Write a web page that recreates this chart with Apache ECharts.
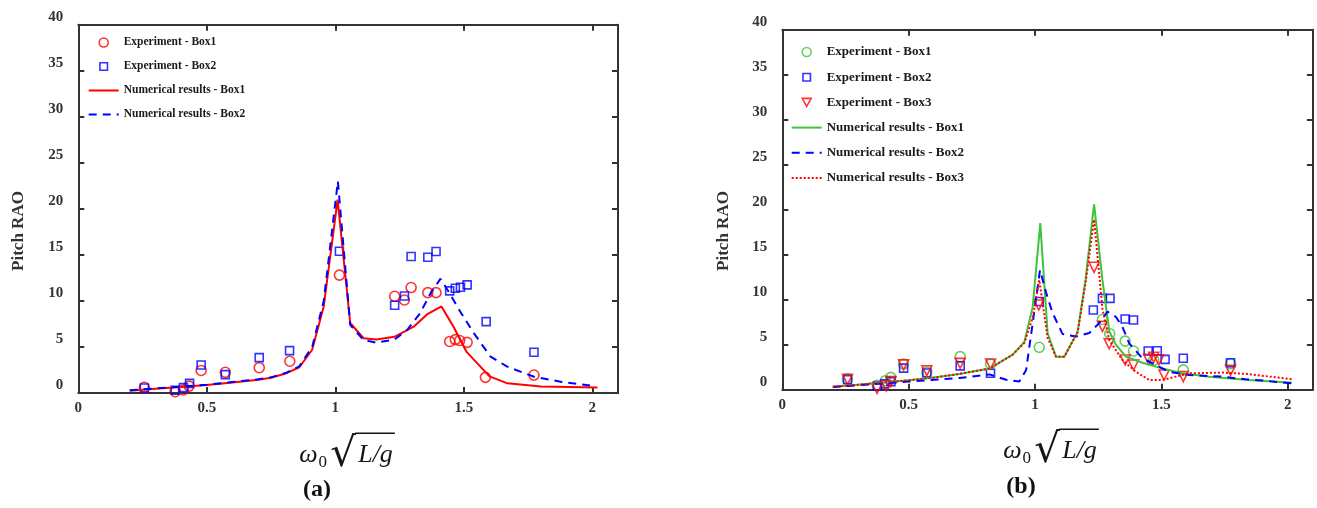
<!DOCTYPE html>
<html>
<head>
<meta charset="utf-8">
<script src="https://cdn.jsdelivr.net/npm/echarts@6/dist/echarts.min.js"></script>
<style>html,body{margin:0;padding:0;background:#fff}#c{width:1317px;height:508px}</style>
</head>
<body>
<div id="c"></div>
<script>
// ---------- DATA ----------
// axis ticks
const xMin = 0, xMax = 2.1, xStep = 0.5;
const yMin = 0, yMax = 40, yStep = 5;

// Panel (a) numerical results
const aNum1X = [0.20,0.30,0.40,0.50,0.60,0.70,0.75,0.81,0.86,0.91,0.955,1.009,1.058,1.11,1.16,1.23,1.305,1.36,1.413,1.46,1.51,1.60,1.67,1.80,2.02];
const aNum1Y = [0.25,0.45,0.65,0.87,1.15,1.45,1.65,2.15,2.8,4.7,9.4,21.0,7.6,5.95,5.8,6.1,7.2,8.6,9.4,7.2,4.5,1.8,1.05,0.7,0.6];
const aNum2X = [0.20,0.30,0.40,0.50,0.60,0.70,0.75,0.81,0.86,0.91,0.955,1.01,1.058,1.11,1.16,1.23,1.28,1.33,1.37,1.409,1.441,1.487,1.539,1.604,1.669,1.773,1.877,2.006];
const aNum2Y = [0.3,0.5,0.7,0.9,1.2,1.5,1.7,2.2,2.9,5.0,10.0,23.0,7.4,5.76,5.47,5.8,6.85,8.66,10.8,12.4,11.0,8.8,6.5,3.95,2.86,1.77,1.23,0.76];
// Panel (a) experiments
const aExp1X = [0.257,0.377,0.409,0.431,0.478,0.572,0.704,0.823,1.016,1.231,1.269,1.295,1.36,1.392,1.445,1.467,1.484,1.513,1.584,1.773];
const aExp1Y = [0.62,0.14,0.33,0.75,2.45,2.25,2.75,3.45,12.8,10.5,10.1,11.45,10.9,10.9,5.6,5.8,5.7,5.5,1.7,1.95];
const aExp2X = [0.257,0.377,0.409,0.433,0.478,0.572,0.704,0.822,1.016,1.231,1.269,1.295,1.36,1.392,1.445,1.467,1.487,1.513,1.587,1.773];
const aExp2Y = [0.55,0.3,0.58,1.05,3.04,2.0,3.84,4.6,15.4,9.53,10.54,14.82,14.75,15.36,11.09,11.38,11.49,11.74,7.75,4.42];

// Panel (b) numerical results
const bNum1X = [0.20,0.30,0.40,0.50,0.60,0.70,0.82,0.912,0.958,0.991,1.021,1.05,1.083,1.116,1.169,1.20,1.234,1.267,1.294,1.32,1.36,1.425,1.504,1.583,1.689,1.846,2.017];
const bNum1Y = [0.33,0.55,0.8,1.05,1.35,1.75,2.35,3.9,5.3,9.2,18.5,6.3,3.67,3.67,6.44,12.2,20.6,12.2,6.5,5.0,3.67,3.0,2.37,1.82,1.45,1.08,0.78];
const bNum2X = [0.20,0.30,0.50,0.70,0.82,0.886,0.938,0.965,0.991,1.02,1.044,1.07,1.109,1.162,1.215,1.254,1.287,1.32,1.346,1.373,1.425,1.478,1.53,1.61,1.741,1.833,1.91,2.017];
const bNum2Y = [0.3,0.5,0.9,1.3,1.7,1.1,0.9,2.2,7.4,13.3,10.8,8.5,6.2,5.9,6.3,7.4,8.67,8.1,7.0,5.15,3.5,2.74,2.0,1.63,1.45,1.15,1.0,0.7];
const bNum3X = [0.20,0.30,0.40,0.50,0.60,0.70,0.82,0.912,0.958,0.991,1.017,1.05,1.083,1.116,1.169,1.20,1.234,1.267,1.294,1.346,1.399,1.452,1.504,1.557,1.61,1.741,1.846,2.017];
const bNum3Y = [0.33,0.55,0.8,1.05,1.35,1.75,2.35,3.9,5.2,8.0,12.2,5.8,3.67,3.67,6.4,11.8,18.9,9.0,5.5,3.3,2.0,1.08,1.08,1.45,1.82,1.9,1.74,1.15];
// Panel (b) experiments
const bExp1X = [0.258,0.376,0.408,0.429,0.48,0.572,0.704,0.824,1.017,1.267,1.296,1.357,1.39,1.47,1.587,1.774];
const bExp1Y = [1.2,0.5,1.0,1.37,2.86,1.95,3.67,2.86,4.71,7.8,6.22,5.4,4.3,3.3,2.2,2.9];
const bExp2X = [0.258,0.376,0.405,0.43,0.48,0.572,0.704,0.824,1.017,1.231,1.267,1.297,1.357,1.39,1.448,1.484,1.515,1.587,1.774];
const bExp2Y = [1.1,0.4,0.65,0.9,2.4,1.85,2.65,1.82,9.8,8.86,10.15,10.15,7.85,7.75,4.3,4.33,3.37,3.5,3.0];
const bExp3X = [0.258,0.375,0.412,0.43,0.48,0.572,0.704,0.824,1.015,1.234,1.267,1.294,1.357,1.39,1.45,1.47,1.49,1.511,1.587,1.774];
const bExp3Y = [1.15,0.15,0.41,0.9,2.76,2.11,2.93,2.86,9.41,13.6,7.04,5.1,3.3,2.74,3.37,3.6,3.3,1.63,1.45,2.15];

// Text
const legendA = ['Experiment - Box1','Experiment - Box2','Numerical results - Box1','Numerical results - Box2'];
const legendB = ['Experiment - Box1','Experiment - Box2','Experiment - Box3','Numerical results - Box1','Numerical results - Box2','Numerical results - Box3'];
const yName = 'Pitch RAO';
const panelTags = ['(a)', '(b)'];

// ---------- STYLE ----------
const FONT = '"Liberation Serif", "Times New Roman", serif';
const MATHF = '"Liberation Serif", serif';
const AXC = '#333333';
const RED = '#ff0000', BLUE = '#0000ff', GREEN = '#3cc43c';
// legend marker icons drawn inside a 30x9 box (invisible moveTo points keep the box size)
const ICON_SQUARE = 'path://M0,0M30,9M11.25,0.75L18.75,0.75L18.75,8.25L11.25,8.25Z';
const ICON_TRI_DOWN = 'path://M0,0M30,9M10.5,0.5L19.5,0.5L15,8.5Z';

function pairs(xs, ys) { return xs.map((x, i) => [x, ys[i]]); }

function xAx(grid, pos, showLabel) {
  return {
    type: 'value', gridIndex: grid, position: pos, min: xMin, max: xMax, interval: xStep,
    axisLine: { show: true, onZero: false, lineStyle: { color: AXC, width: 2 } },
    axisTick: { show: true, inside: true, length: 6, lineStyle: { color: AXC, width: 2 } },
    axisLabel: { show: showLabel, showMaxLabel: false, margin: 8, color: AXC, fontFamily: FONT, fontWeight: 'bold', fontSize: 15 },
    splitLine: { show: false }
  };
}
function yAx(grid, pos, showLabel) {
  return {
    type: 'value', gridIndex: grid, position: pos, min: yMin, max: yMax, interval: yStep,
    axisLine: { show: true, onZero: false, lineStyle: { color: AXC, width: 2 } },
    axisTick: { show: true, inside: true, length: 6, lineStyle: { color: AXC, width: 2 } },
    axisLabel: { show: showLabel, margin: 15, verticalAlign: 'bottom', color: AXC, fontFamily: FONT, fontWeight: 'bold', fontSize: 15 },
    splitLine: { show: false }
  };
}

function lineS(name, xi, yi, xs, ys, color, type) {
  return { type: 'line', name: name, xAxisIndex: xi, yAxisIndex: yi, data: pairs(xs, ys),
    symbol: 'none', smooth: false, lineStyle: { color: color, width: 2, type: type || 'solid' },
    itemStyle: { color: 'rgba(0,0,0,0)', borderWidth: 0, opacity: 0 } };
}
function scatS(name, xi, yi, xs, ys, color, symbol, size, rot) {
  return { type: 'scatter', name: name, xAxisIndex: xi, yAxisIndex: yi, data: pairs(xs, ys),
    symbol: symbol, symbolSize: size, symbolRotate: rot || 0, symbolKeepAspect: true,
    itemStyle: { color: 'rgba(255,255,255,0)', borderColor: color, borderWidth: 1.6 } };
}

// ---------- math axis title ----------
const mctx = document.createElement('canvas').getContext('2d');
function meas(font, text, baseline) {
  mctx.font = font; mctx.textBaseline = baseline || 'alphabetic';
  return mctx.measureText(text);
}
function textAtBaseline(text, font, x, B) {
  const d = meas(font, 'x', 'middle').actualBoundingBoxDescent;
  return { type: 'text', x: x, y: B - d, silent: true,
    style: { text: text, font: font, fill: '#151515', align: 'left', verticalAlign: 'middle', textAlign: 'left', textVerticalAlign: 'middle' } };
}
function mathTitle(cx, B) {
  const fMain = 'italic 26px ' + MATHF;
  const fSub = '17px ' + MATHF;
  const sqF100 = '100px "DejaVu Serif"';
  const m100 = meas(sqF100, '\u221A');
  const top = B - 29.5, bottom = B + 5;
  const s = 100 * (bottom - top) / (m100.actualBoundingBoxAscent + m100.actualBoundingBoxDescent);
  const sqF = s.toFixed(2) + 'px "DejaVu Serif"';
  const sqB = top + m100.actualBoundingBoxAscent * s / 100;
  const wOmega = meas(fMain, '\u03C9').width;
  const wSub = meas(fSub, '0').width;
  const sqLeft = m100.actualBoundingBoxLeft * s / 100;
  const sqRight = m100.actualBoundingBoxRight * s / 100;
  const wRad = meas(fMain, 'L/g').width;
  const xO = 0, xS = wOmega + 1, xQ = xS + wSub + 4 + sqLeft;
  const xQr = xQ + sqRight;
  const xL = xQr + 2;
  const xEnd = xL + wRad + 2;
  const off = cx - xEnd / 2;
  return [
    textAtBaseline('\u03C9', fMain, off + xO, B),
    textAtBaseline('0', fSub, off + xS, B + 5),
    textAtBaseline('\u221A', sqF, off + xQ, sqB),
    textAtBaseline('L/g', fMain, off + xL, B),
    { type: 'rect', silent: true, shape: { x: off + xQr - 1, y: top, width: xEnd - xQr + 1, height: 1.6 }, style: { fill: '#151515' } }
  ];
}

const graphics = [].concat(
  mathTitle(347, 462),
  mathTitle(1051, 458),
  [
    { type: 'text', x: 19, y: 231, rotation: Math.PI / 2, silent: true,
      style: { text: yName, font: 'bold 17px ' + FONT, fill: AXC, align: 'center', verticalAlign: 'middle', textAlign: 'center', textVerticalAlign: 'middle' } },
    { type: 'text', x: 724, y: 231, rotation: Math.PI / 2, silent: true,
      style: { text: yName, font: 'bold 17px ' + FONT, fill: AXC, align: 'center', verticalAlign: 'middle', textAlign: 'center', textVerticalAlign: 'middle' } },
    { type: 'text', x: 317, y: 490, silent: true,
      style: { text: panelTags[0], font: 'bold 24px ' + FONT, fill: '#111', align: 'center', verticalAlign: 'middle', textAlign: 'center', textVerticalAlign: 'middle' } },
    { type: 'text', x: 1021, y: 487, silent: true,
      style: { text: panelTags[1], font: 'bold 24px ' + FONT, fill: '#111', align: 'center', verticalAlign: 'middle', textAlign: 'center', textVerticalAlign: 'middle' } }
  ]
);

const legendText = (size) => ({ fontFamily: FONT, fontWeight: 'bold', fontSize: size, color: '#1a1a1a' });
function legendItems(prefix, names) {
  return names.map(n => {
    const item = { name: prefix + n };
    if (n === 'Experiment - Box2') item.icon = ICON_SQUARE;
    if (n === 'Experiment - Box3') { item.icon = ICON_TRI_DOWN; item.symbolRotate = 0; }
    return item;
  });
}

const option = {
  animation: false,
  backgroundColor: '#ffffff',
  grid: [
    { left: 78.3, top: 24.7, width: 539.7, height: 368.3, containLabel: false },
    { left: 782.3, top: 29.7, width: 530.6, height: 360, containLabel: false }
  ],
  xAxis: [xAx(0, 'bottom', true), xAx(0, 'top', false), xAx(1, 'bottom', true), xAx(1, 'top', false)],
  yAxis: [yAx(0, 'left', true), yAx(0, 'right', false), yAx(1, 'left', true), yAx(1, 'right', false)],
  legend: [
    { data: legendItems('a|', legendA), formatter: n => n.slice(2), orient: 'vertical', left: 87.7, top: 36.5,
      padding: 0, itemWidth: 30, itemHeight: 9, itemGap: 12.0, selectedMode: false,
      itemStyle: { borderWidth: 1.6 }, textStyle: legendText(11.5) },
    { data: legendItems('b|', legendB), formatter: n => n.slice(2), orient: 'vertical', left: 790.7, top: 45.5,
      padding: 0, itemWidth: 30, itemHeight: 9, itemGap: 12.2, selectedMode: false,
      itemStyle: { borderWidth: 1.6 }, textStyle: legendText(13) }
  ],
  series: [
    lineS('a|Numerical results - Box1', 0, 0, aNum1X, aNum1Y, RED),
    lineS('a|Numerical results - Box2', 0, 0, aNum2X, aNum2Y, BLUE, [8, 6]),
    scatS('a|Experiment - Box1', 0, 0, aExp1X, aExp1Y, RED, 'circle', 10),
    scatS('a|Experiment - Box2', 0, 0, aExp2X, aExp2Y, BLUE, 'rect', 8),

    lineS('b|Numerical results - Box1', 2, 2, bNum1X, bNum1Y, GREEN),
    lineS('b|Numerical results - Box2', 2, 2, bNum2X, bNum2Y, BLUE, [8, 6]),
    lineS('b|Numerical results - Box3', 2, 2, bNum3X, bNum3Y, RED, [2, 2]),
    scatS('b|Experiment - Box1', 2, 2, bExp1X, bExp1Y, GREEN, 'circle', 10),
    scatS('b|Experiment - Box2', 2, 2, bExp2X, bExp2Y, BLUE, 'rect', 8),
    scatS('b|Experiment - Box3', 2, 2, bExp3X, bExp3Y, RED, 'triangle', 10, 180)
  ],
  graphic: graphics
};

const chart = echarts.init(document.getElementById('c'), null, { renderer: 'canvas' });
chart.setOption(option);
</script>
</body>
</html>
